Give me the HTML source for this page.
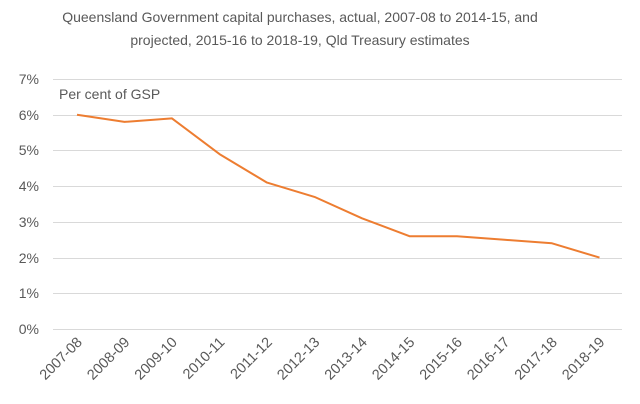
<!DOCTYPE html>
<html><head><style>body{margin:0;background:#fff}svg{display:block}text{font-family:"Liberation Sans",sans-serif;fill:#595959}</style></head>
<body>
<svg width="640" height="404" viewBox="0 0 640 404">
<text x="300" y="22" font-size="14" text-anchor="middle">Queensland Government  capital purchases, actual, 2007-08 to 2014-15, and</text>
<text x="300" y="45" font-size="14" text-anchor="middle">projected, 2015-16 to 2018-19, Qld Treasury estimates</text>
<g stroke="#d9d9d9" stroke-width="1">
<line x1="53" x2="622" y1="329.5" y2="329.5"/><line x1="53" x2="622" y1="293.5" y2="293.5"/><line x1="53" x2="622" y1="258.5" y2="258.5"/><line x1="53" x2="622" y1="222.5" y2="222.5"/><line x1="53" x2="622" y1="186.5" y2="186.5"/><line x1="53" x2="622" y1="150.5" y2="150.5"/><line x1="53" x2="622" y1="115.5" y2="115.5"/><line x1="53" x2="622" y1="79.5" y2="79.5"/>
</g>
<g font-size="14" text-anchor="end">
<text x="39" y="334">0%</text><text x="39" y="298">1%</text><text x="39" y="263">2%</text><text x="39" y="227">3%</text><text x="39" y="191">4%</text><text x="39" y="155">5%</text><text x="39" y="120">6%</text><text x="39" y="84">7%</text>
</g>
<text x="59" y="99" font-size="14">Per cent of GSP</text>
<polyline fill="none" stroke="#ed7d31" stroke-width="2" stroke-linejoin="round" points="77,114.8 124.5,121.9 172,118.4 219.5,154.1 267,182.6 314.5,196.9 362,218.3 409.5,236.2 457,236.2 504.5,239.8 552,243.3 599.5,257.6"/>
<g font-size="14.5" text-anchor="end">
<text transform="translate(83,343) rotate(-45)">2007-08</text>
<text transform="translate(130.5,343) rotate(-45)">2008-09</text>
<text transform="translate(178,343) rotate(-45)">2009-10</text>
<text transform="translate(225.5,343) rotate(-45)">2010-11</text>
<text transform="translate(273,343) rotate(-45)">2011-12</text>
<text transform="translate(320.5,343) rotate(-45)">2012-13</text>
<text transform="translate(368,343) rotate(-45)">2013-14</text>
<text transform="translate(415.5,343) rotate(-45)">2014-15</text>
<text transform="translate(463,343) rotate(-45)">2015-16</text>
<text transform="translate(510.5,343) rotate(-45)">2016-17</text>
<text transform="translate(558,343) rotate(-45)">2017-18</text>
<text transform="translate(605.5,343) rotate(-45)">2018-19</text>
</g>
</svg>
</body></html>
